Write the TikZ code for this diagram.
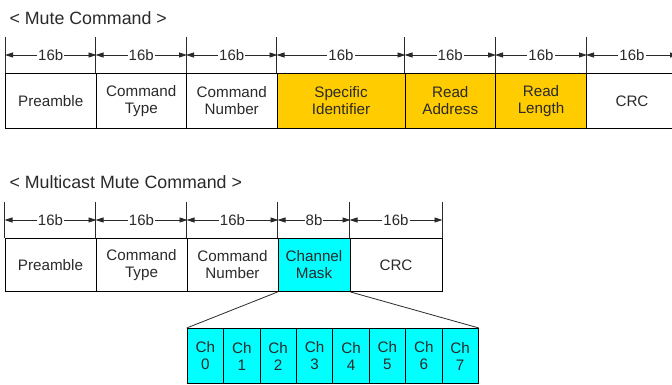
\documentclass[tikz,border=0pt]{standalone}
\usepackage{fontspec}
\setmainfont{Liberation Sans}
\usetikzlibrary{arrows.meta}
\definecolor{gold}{HTML}{FFCC00}
\definecolor{aqua}{HTML}{00FFFF}
\definecolor{ink}{HTML}{2A2A2A}
\tikzset{
  field/.style={draw=black, line width=1pt, anchor=north west, inner sep=0pt,
    align=center, text=ink, font=\fontsize{15.2}{17}\selectfont},
  tick/.style={draw=ink, line width=1pt},
  dim/.style={draw=ink, line width=0.8pt, {Triangle[length=8pt,width=5pt]}-{Triangle[length=8pt,width=5pt]}},
  dimlabel/.style={fill=white, inner sep=1pt, text=ink, font=\fontsize{15}{16}\selectfont},
  title/.style={anchor=west, text=ink, font=\fontsize{17.8}{19}\selectfont},
  link/.style={draw=ink, line width=0.8pt},
}
\begin{document}
\begin{tikzpicture}[x=1pt,y=-1pt]
\useasboundingbox (0,0) rectangle (672,385);
\clip (0,0) rectangle (672,385);

% ---------- Mute Command ----------
\node[title] (t1) at (6,18) {< Mute Command >};
\node[field, minimum width=90.5pt, minimum height=55pt] (a1) at (5,73) {Preamble};
\node[field, minimum width=90.5pt, minimum height=55pt] (a2) at (95.5,73) {Command\\Type};
\node[field, minimum width=90.5pt, minimum height=55pt] (a3) at (186,73) {Command\\Number};
\node[field, fill=gold, minimum width=128pt, minimum height=55pt] (a4) at (276.5,73) {Specific\\Identifier};
\node[field, fill=gold, minimum width=90.5pt, minimum height=55pt] (a5) at (404.5,73) {Read\\Address};
\node[field, fill=gold, minimum width=91pt, minimum height=55pt] (a6) at (495,73) {Read\\Length};
\node[field, minimum width=91pt, minimum height=55pt] (a7) at (586,73) {CRC};

\foreach \n in {a1,a2,a3,a4,a5,a6,a7} {
  \draw[tick] (\n.north west) -- ++(0,-36);
}
\draw[tick] (a7.north east) -- ++(0,-36);
\foreach \n in {a1,a2,a3,a4,a5,a6,a7} {
  \draw[dim] ([yshift=18pt]\n.north west) -- node[dimlabel] {16b} ([yshift=18pt]\n.north east);
}

% ---------- Multicast Mute Command ----------
\node[title] (t2) at (6,182) {< Multicast Mute Command >};
\node[field, minimum width=91pt, minimum height=53pt] (b1) at (4.5,238) {Preamble};
\node[field, minimum width=91pt, minimum height=53pt] (b2) at (95.5,238) {Command\\Type};
\node[field, minimum width=91pt, minimum height=53pt] (b3) at (186.5,238) {Command\\Number};
\node[field, fill=aqua, minimum width=72pt, minimum height=53pt] (b4) at (277.5,238) {Channel\\Mask};
\node[field, minimum width=92pt, minimum height=53pt] (b5) at (349.5,238) {CRC};

\foreach \n in {b1,b2,b3,b4,b5} {
  \draw[tick] (\n.north west) -- ++(0,-36);
}
\draw[tick] (b5.north east) -- ++(0,-36);
\draw[dim] ([yshift=18pt]b1.north west) -- node[dimlabel] {16b} ([yshift=18pt]b1.north east);
\draw[dim] ([yshift=18pt]b2.north west) -- node[dimlabel] {16b} ([yshift=18pt]b2.north east);
\draw[dim] ([yshift=18pt]b3.north west) -- node[dimlabel] {16b} ([yshift=18pt]b3.north east);
\draw[dim] ([yshift=18pt]b4.north west) -- node[dimlabel] {8b} ([yshift=18pt]b4.north east);
\draw[dim] ([yshift=18pt]b5.north west) -- node[dimlabel] {16b} ([yshift=18pt]b5.north east);

% ---------- Channel bits ----------
\foreach \i in {0,...,7} {
  \node[field, fill=aqua, minimum width=36.4pt, minimum height=55pt] (c\i) at ({186.7+36.4*\i},328) {Ch\\\i};
}
\draw[link] (b4.south west) -- (c0.north west);
\draw[link] (b4.south east) -- (c7.north east);
\end{tikzpicture}
\end{document}
